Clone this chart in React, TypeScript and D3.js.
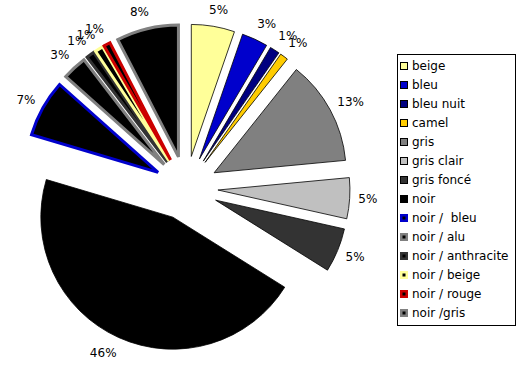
import React from "react";
import * as d3 from "d3";

const categories = [
  "beige", "bleu", "bleu nuit", "camel", "gris", "gris clair", "gris foncé",
  "noir", "noir /  bleu", "noir / alu", "noir / anthracite", "noir / beige",
  "noir / rouge", "noir /gris",
];
const values = [5.3, 3.2, 1.2, 1.0, 12.8, 5.0, 5.4, 45.7, 7.0, 3.0, 1.0, 1.0, 0.8, 7.6];
const fills = [
  "#FFFF99", "#0000CC", "#000080", "#FFCC00", "#808080", "#C0C0C0", "#333333",
  "#000000", "#000000", "#000000", "#000000", "#000000", "#000000", "#000000",
];
const borders = [
  null, null, null, null, null, null, null,
  null, "#0000CC", "#808080", "#333333", "#FFFF99", "#CC0000", "#808080",
];

const W = 521;
const H = 377;
const CX = 186;
const CY = 188;
const R = 132;
const EXPLODE = 32;
const LABEL_R = 175;
const FONT = "DejaVu Sans, Verdana, sans-serif";

export default function App() {
  const total = d3.sum(values);
  const pie = d3
    .pie<number>()
    .sort(null)
    .value((d) => d)
    .startAngle(0)
    .endAngle(2 * Math.PI);
  const arcs = pie(values);
  const arc = d3.arc<d3.PieArcDatum<number>>().innerRadius(0).outerRadius(R);

  const legendX = 397.5;
  const legendY = 54.5;
  const legendW = 118;
  const legendH = 271;
  const itemY0 = 66;
  const itemStep = 19;

  return (
    <svg
      width={W}
      height={H}
      style={{ position: "absolute", left: 0, top: 0, background: "#fff" }}
    >
      <g transform={`translate(${CX},${CY})`}>
        {arcs.map((a, i) => {
          const mid = (a.startAngle + a.endAngle) / 2;
          const dx = Math.sin(mid) * EXPLODE;
          const dy = -Math.cos(mid) * EXPLODE;
          const b = borders[i];
          return (
            <path
              key={i}
              d={arc(a) || ""}
              transform={`translate(${dx},${dy})`}
              fill={fills[i]}
              stroke={b || "#000"}
              strokeWidth={b ? 3 : 0.8}
              strokeLinejoin="miter"
            />
          );
        })}
        {arcs.map((a, i) => {
          const mid = (a.startAngle + a.endAngle) / 2;
          const s = Math.sin(mid);
          const c = Math.cos(mid);
          const txt = `${Math.round((values[i] / total) * 100)}%`;
          const w = txt.length * 7.2;
          const h = 12;
          const px = s * LABEL_R;
          const py = -c * LABEL_R;
          const k = Math.max(-1, Math.min(1, s * 3));
          const x = px + (w / 2) * k;
          const y = py - (h / 2) * c;
          return (
            <text
              key={"l" + i}
              x={x}
              y={y}
              textAnchor="middle"
              dominantBaseline="central"
              fontFamily={FONT}
              fontSize={12}
              fill="#000"
            >
              {txt}
            </text>
          );
        })}
      </g>
      <rect
        x={legendX}
        y={legendY}
        width={legendW}
        height={legendH}
        fill="#fff"
        stroke="#000"
        strokeWidth={1}
      />
      {categories.map((cat, i) => {
        const y = itemY0 + i * itemStep;
        const b = borders[i];
        return (
          <g key={"g" + i}>
            {b ? (
              <>
                <rect x={400} y={y - 4} width={8} height={8} fill={b} />
                <rect x={402.5} y={y - 1.5} width={3} height={3} fill="#000" />
              </>
            ) : (
              <rect
                x={400.5}
                y={y - 3.5}
                width={7}
                height={7}
                fill={fills[i]}
                stroke="#000"
                strokeWidth={1}
              />
            )}
            <text
              x={412}
              y={y}
              dominantBaseline="central"
              fontFamily={FONT}
              fontSize={12}
              fill="#000"
              style={{ whiteSpace: "pre" }}
            >
              {cat}
            </text>
          </g>
        );
      })}
    </svg>
  );
}
